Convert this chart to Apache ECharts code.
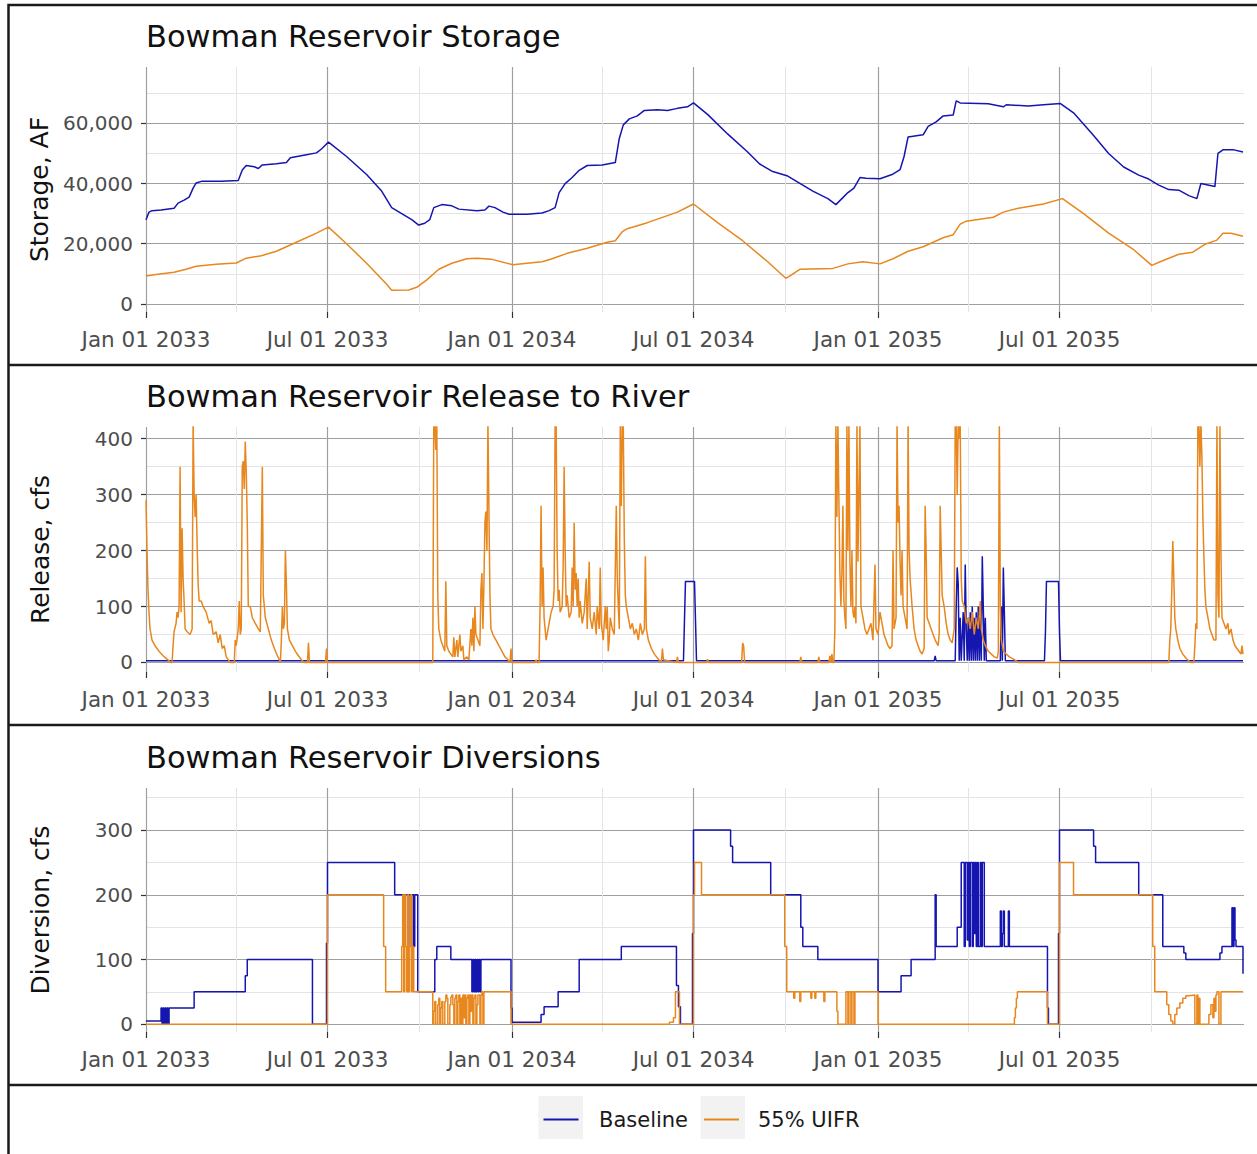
<!DOCTYPE html>
<html>
<head>
<meta charset="utf-8">
<title>Bowman Reservoir</title>
<script src="https://cdn.jsdelivr.net/npm/echarts@6/dist/echarts.min.js"></script>
<style>
html, body { margin: 0; padding: 0; background: #fff; }
#chart { width: 1257px; height: 1154px; }
</style>
</head>
<body>
<div id="chart"></div>
<script>
// x values are days counted from Jan 01 2033
const xTickDays = [0, 181, 365, 546, 730, 911]
const xTickLabels = ["Jan 01 2033", "Jul 01 2033", "Jan 01 2034", "Jul 01 2034", "Jan 01 2035", "Jul 01 2035"]
const xMinorDays = [90.5, 273, 455.5, 638, 820.5, 1003]

const storageTicks = [0, 20000, 40000, 60000]
const storageMinor = [10000, 30000, 50000, 70000]
const releaseTicks = [0, 100, 200, 300, 400]
const releaseMinor = [50, 150, 250, 350]
const diversionTicks = [0, 100, 200, 300]
const diversionMinor = [50, 150, 250, 350]

const seriesNames = ["Baseline", "55% UIFR"]

// storage, AF
const storageBaseline = [
	[0, 28000], [3, 30500], [6, 31000], [15, 31200], [28, 31800], [32, 33500], [38, 34500], [43, 35500], [47, 38500],
	[50, 40200], [56, 40800], [75, 40800], [92, 41000], [96, 44500], [100, 46000], [108, 45600], [112, 45000],
	[116, 46200], [130, 46600], [140, 47000], [144, 48600], [160, 49600], [170, 50200], [175, 51500], [182, 53800],
	[200, 49000], [220, 43000], [235, 37500], [245, 32000], [255, 30000], [265, 28000], [272, 26200], [278, 26800],
	[283, 28000], [287, 32000], [295, 33000], [305, 32600], [312, 31500], [330, 31000], [338, 31200], [342, 32500],
	[348, 32000], [356, 30500], [362, 29800], [380, 29800], [395, 30200], [402, 31000], [408, 32000], [412, 37000],
	[418, 40000], [425, 42000], [432, 44400], [440, 46000], [455, 46200], [468, 47000], [472, 55000], [476, 59500],
	[482, 61500], [490, 62500], [497, 64300], [510, 64500], [520, 64300], [530, 65000], [540, 65500], [546, 66800],
	[560, 63000], [580, 56500], [600, 50500], [612, 46500], [625, 44000], [640, 42500], [650, 40500], [665, 37500],
	[680, 35000], [688, 33000], [694, 35000], [700, 37000], [706, 38500], [712, 42000], [718, 41800], [732, 41600],
	[744, 43000], [752, 44600], [756, 49000], [760, 55500], [775, 56200], [780, 59000], [788, 60500], [795, 62500],
	[805, 62800], [808, 67500], [812, 66800], [840, 66500], [855, 65500], [858, 66200], [880, 65800], [895, 66200],
	[912, 66600], [925, 63500], [945, 56000], [960, 50000], [975, 45500], [990, 42800], [1000, 41500], [1010, 39500],
	[1020, 38000], [1030, 37800], [1040, 36000], [1048, 35000], [1052, 40000], [1066, 39000], [1069, 50000],
	[1074, 51200], [1085, 51200], [1094, 50500],
]
const storageUifr = [
	[0, 9300], [10, 9800], [28, 10500], [40, 11500], [50, 12500], [70, 13200], [90, 13600], [100, 15200], [115, 16000],
	[130, 17500], [150, 20500], [170, 23500], [182, 25500], [200, 20000], [220, 13500], [240, 6500], [245, 4500],
	[262, 4600], [270, 5500], [280, 8000], [292, 11500], [305, 13500], [320, 15000], [330, 15200], [345, 14800],
	[366, 13000], [380, 13500], [395, 14000], [405, 15000], [420, 16800], [440, 18500], [460, 20500], [468, 21000],
	[475, 24000], [480, 25000], [500, 27000], [530, 30500], [546, 33200], [570, 27000], [595, 21000], [620, 14000],
	[638, 8500], [643, 9500], [652, 11500], [685, 11800], [700, 13300], [715, 14000], [732, 13300], [745, 15000],
	[760, 17500], [775, 19000], [795, 22000], [805, 23000], [812, 26500], [818, 27500], [845, 28800], [855, 30500],
	[870, 31800], [895, 33200], [914, 35000], [935, 30000], [960, 23500], [985, 18000], [1003, 12800], [1015, 14500],
	[1030, 16500], [1044, 17200], [1056, 19800], [1068, 21200], [1074, 23500], [1082, 23500], [1094, 22500],
]

// release to river, cfs
const releaseBaseline = [
	[0, 3], [536, 3], [537, 75], [538, 145], [547, 145], [548, 75], [549, 3], [786, 3], [787, 12], [788, 3],
	[807, 3], [808, 100], [809, 170], [810, 140], [811, 3], [812, 80], [813, 3], [815, 90], [816, 3], [817, 175],
	[818, 60], [819, 3], [820, 80], [821, 3], [822, 90], [823, 3], [824, 100], [825, 3], [826, 80], [827, 3],
	[828, 90], [829, 3], [830, 100], [831, 3], [832, 80], [833, 3], [834, 190], [835, 100], [836, 3], [837, 80],
	[838, 3], [852, 3], [853, 100], [854, 3], [855, 170], [856, 90], [857, 3], [896, 3], [897, 55], [898, 145],
	[910, 145], [911, 55], [912, 3], [1094, 3],
]
const releaseUifr = [
	[0, 290], [1, 200], [2, 130], [3, 90], [4, 60], [6, 40], [9, 30], [13, 20], [17, 12], [21, 6], [25, 0], [26, 0],
	[27, 30], [28, 55], [30, 70], [31, 90], [32, 80], [33, 100], [34, 350], [35, 90], [36, 240], [37, 150], [38, 110],
	[39, 60], [41, 55], [44, 50], [46, 60], [47, 430], [48, 300], [49, 260], [50, 300], [51, 210], [52, 140],
	[53, 110], [55, 110], [57, 100], [60, 90], [63, 70], [65, 75], [67, 50], [70, 55], [72, 35], [74, 50], [76, 25],
	[78, 30], [80, 10], [82, 5], [84, 0], [88, 0], [89, 40], [90, 30], [92, 60], [93, 110], [94, 50], [95, 60],
	[96, 350], [97, 360], [98, 310], [99, 395], [100, 340], [101, 250], [102, 100], [104, 100], [106, 80], [109, 70],
	[112, 60], [114, 55], [116, 350], [117, 120], [119, 80], [122, 60], [125, 40], [128, 25], [131, 12], [133, 5],
	[134, 0], [135, 40], [136, 100], [137, 60], [138, 70], [139, 200], [140, 140], [141, 60], [143, 40], [146, 30],
	[149, 20], [152, 12], [155, 5], [158, 0], [161, 0], [162, 35], [163, 0], [179, 0], [180, 25], [181, 0],
	[286, 0], [287, 430], [288, 430], [289, 380], [290, 430], [291, 120], [292, 60], [294, 40], [296, 30], [298, 20],
	[299, 145], [300, 30], [302, 20], [304, 15], [306, 10], [307, 45], [308, 10], [310, 40], [311, 10], [313, 50],
	[314, 20], [316, 30], [317, 5], [320, 10], [322, 5], [324, 60], [325, 30], [326, 80], [327, 20], [328, 100],
	[329, 50], [331, 40], [333, 30], [334, 130], [335, 160], [336, 60], [337, 140], [338, 250], [339, 270],
	[340, 200], [341, 430], [342, 270], [343, 120], [344, 60], [346, 50], [349, 40], [352, 30], [355, 20], [358, 10],
	[361, 5], [363, 0], [364, 25], [365, 0], [388, 0], [389, 5], [390, 0], [392, 0], [393, 100], [394, 280],
	[395, 100], [396, 170], [397, 80], [398, 60], [399, 40], [400, 50], [402, 70], [404, 90], [406, 100], [407, 130],
	[408, 430], [409, 430], [410, 200], [411, 110], [412, 130], [413, 90], [415, 100], [416, 170], [417, 350],
	[418, 200], [419, 100], [420, 120], [422, 80], [424, 90], [425, 170], [426, 100], [427, 250], [428, 130],
	[429, 160], [430, 100], [431, 150], [432, 80], [433, 110], [435, 70], [437, 90], [439, 150], [440, 60],
	[442, 180], [443, 80], [445, 60], [447, 90], [449, 50], [450, 100], [452, 60], [453, 170], [454, 70], [456, 40],
	[458, 100], [459, 60], [460, 100], [461, 20], [462, 40], [463, 80], [465, 60], [467, 50], [469, 280], [470, 150],
	[471, 100], [472, 60], [473, 430], [474, 280], [475, 430], [476, 420], [477, 220], [478, 120], [479, 100],
	[481, 80], [483, 60], [485, 70], [487, 50], [489, 60], [491, 40], [493, 70], [495, 50], [497, 60], [498, 190],
	[499, 60], [501, 40], [504, 25], [507, 15], [510, 8], [514, 0], [515, 25], [516, 5], [529, 0], [530, 10],
	[531, 0], [559, 0], [560, 6], [561, 0], [594, 0], [595, 35], [596, 30], [597, 0], [652, 0], [653, 10], [654, 0],
	[670, 0], [671, 10], [672, 0], [681, 0], [682, 12], [683, 0], [684, 15], [685, 0], [686, 0], [687, 60],
	[688, 430], [689, 260], [690, 430], [691, 290], [692, 160], [693, 100], [694, 160], [695, 280], [696, 110],
	[697, 80], [698, 60], [699, 430], [700, 200], [701, 430], [702, 180], [703, 100], [704, 200], [705, 90],
	[706, 80], [707, 100], [708, 70], [709, 430], [710, 180], [712, 430], [713, 100], [715, 80], [717, 60], [719, 50],
	[721, 60], [723, 70], [725, 40], [727, 175], [728, 60], [730, 50], [732, 90], [734, 70], [736, 50], [738, 40],
	[740, 30], [742, 25], [744, 30], [745, 200], [746, 60], [748, 80], [749, 430], [750, 250], [751, 280], [752, 180],
	[753, 120], [754, 200], [755, 100], [757, 80], [759, 60], [760, 430], [761, 200], [762, 150], [764, 100],
	[766, 60], [768, 40], [770, 30], [772, 20], [774, 15], [776, 25], [777, 280], [778, 200], [779, 80], [781, 70],
	[783, 60], [785, 50], [787, 40], [790, 30], [791, 50], [792, 280], [793, 200], [794, 120], [796, 100], [798, 70],
	[800, 50], [802, 40], [804, 35], [806, 60], [807, 430], [808, 430], [809, 300], [810, 430], [811, 400],
	[812, 430], [813, 150], [814, 110], [816, 100], [818, 70], [820, 80], [822, 60], [824, 90], [826, 50], [828, 80],
	[830, 60], [832, 110], [833, 60], [835, 40], [837, 30], [840, 20], [843, 15], [846, 10], [849, 8], [850, 20],
	[851, 430], [852, 100], [853, 40], [855, 20], [858, 15], [861, 10], [866, 5], [870, 0], [1020, 0], [1021, 40],
	[1022, 60], [1023, 130], [1024, 217], [1025, 150], [1026, 80], [1027, 60], [1029, 40], [1031, 25], [1034, 15],
	[1037, 8], [1040, 3], [1042, 0], [1045, 0], [1046, 30], [1047, 70], [1048, 60], [1049, 430], [1050, 430],
	[1051, 350], [1052, 430], [1053, 370], [1054, 260], [1055, 190], [1056, 130], [1057, 100], [1059, 80],
	[1061, 60], [1063, 50], [1065, 40], [1067, 40], [1068, 430], [1069, 120], [1070, 80], [1071, 430], [1072, 200],
	[1073, 80], [1075, 70], [1077, 60], [1079, 70], [1080, 50], [1082, 60], [1084, 40], [1086, 30], [1088, 25],
	[1090, 20], [1092, 15], [1093, 30], [1094, 15],
]

// diversions, cfs (value holds until the next day listed)
const diversionBaseline = [
	[0, 5], [15, 25], [16, 0], [17, 25], [18, 0], [19, 25], [20, 0], [21, 25], [22, 0], [23, 25], [48, 50],
	[99, 75], [101, 100], [166, 0], [180, 125], [181, 250], [248, 200], [261, 120], [262, 200], [264, 120],
	[265, 200], [267, 120], [268, 200], [271, 50], [288, 100], [290, 120], [304, 100], [325, 50], [326, 100],
	[327, 50], [328, 100], [329, 50], [330, 100], [331, 50], [332, 100], [333, 50], [334, 100], [364, 25],
	[365, 3], [394, 15], [397, 27], [411, 50], [432, 100], [474, 120], [529, 60], [531, 27], [533, 0], [545, 140],
	[546, 300], [583, 275], [585, 250], [623, 200], [653, 150], [655, 120], [670, 100], [730, 50], [753, 75],
	[763, 100], [787, 200], [788, 120], [809, 150], [813, 250], [816, 120], [817, 250], [819, 130], [820, 250],
	[821, 120], [822, 250], [824, 120], [825, 250], [826, 140], [827, 250], [828, 120], [829, 250], [830, 120],
	[832, 250], [833, 120], [834, 250], [836, 120], [852, 175], [853, 120], [854, 140], [855, 175], [856, 120],
	[860, 175], [861, 120], [899, 25], [900, 0], [910, 140], [911, 300], [945, 275], [947, 250], [990, 200],
	[1014, 120], [1035, 110], [1037, 100], [1071, 110], [1073, 120], [1083, 180], [1084, 120], [1085, 180],
	[1086, 130], [1087, 120], [1094, 78],
]
const diversionUifr = [
	[0, 0], [181, 200], [237, 120], [239, 50], [255, 120], [256, 200], [257, 50], [258, 200], [259, 120], [260, 50],
	[261, 200], [262, 50], [263, 120], [264, 200], [265, 50], [266, 120], [267, 50], [286, 0], [287, 20], [288, 35],
	[289, 0], [291, 30], [292, 40], [293, 0], [294, 25], [295, 35], [296, 0], [298, 35], [299, 45], [300, 40],
	[301, 0], [303, 30], [304, 42], [305, 45], [306, 30], [307, 0], [308, 40], [309, 45], [310, 0], [311, 35],
	[312, 45], [313, 0], [314, 40], [315, 0], [316, 45], [317, 10], [318, 45], [319, 0], [320, 40], [321, 45],
	[322, 0], [323, 45], [324, 20], [325, 45], [326, 0], [327, 40], [328, 45], [329, 0], [330, 30], [331, 45],
	[333, 0], [334, 45], [335, 50], [336, 0], [337, 50], [364, 0], [522, 3], [526, 10], [528, 50], [532, 0],
	[546, 200], [547, 250], [554, 200], [637, 120], [639, 50], [646, 40], [647, 50], [652, 35], [653, 50],
	[663, 40], [664, 50], [667, 40], [668, 50], [676, 35], [677, 50], [689, 20], [690, 0], [697, 0], [698, 50],
	[700, 0], [701, 50], [703, 0], [704, 50], [706, 0], [707, 50], [730, 0], [866, 10], [867, 25], [868, 40],
	[869, 50], [899, 0], [911, 250], [925, 200], [1004, 120], [1006, 50], [1018, 30], [1020, 15], [1022, 5],
	[1024, 0], [1026, 15], [1028, 25], [1031, 33], [1034, 40], [1037, 44], [1040, 45], [1046, 0], [1048, 45],
	[1049, 0], [1050, 40], [1051, 0], [1060, 15], [1062, 30], [1064, 10], [1065, 40], [1066, 20], [1067, 45],
	[1068, 50], [1070, 0], [1072, 50], [1094, 50],
]

const BLUE = "#1515b0"
const ORANGE = "#e8871e"
const FONT = "DejaVu Sans"
const GRID_MAJOR = "#9f9f9f"
const GRID_MINOR = "#e3e3ea"

const panels = [
	{ title: "Bowman Reservoir Storage", yName: "Storage, AF", top: 67, height: 245, min: -2700, max: 78750,
		ticks: storageTicks, minor: storageMinor, base: storageBaseline, uifr: storageUifr, step: false },
	{ title: "Bowman Reservoir Release to River", yName: "Release, cfs", top: 427, height: 245, min: -17, max: 421,
		ticks: releaseTicks, minor: releaseMinor, base: releaseBaseline, uifr: releaseUifr, step: false },
	{ title: "Bowman Reservoir Diversions", yName: "Diversion, cfs", top: 788, height: 244, min: -12, max: 365,
		ticks: diversionTicks, minor: diversionMinor, base: diversionBaseline, uifr: diversionUifr, step: "end" },
]

const fmtNumber = v => String(v).replace(/\B(?=(\d{3})+(?!\d))/g, ",")

const grids = panels.map(p => ({ left: 146, width: 1098, top: p.top, height: p.height }))

// minor axes first so their grid lines sit under the major ones
const xAxes = []
const yAxes = []
panels.forEach((p, i) => {
	xAxes.push({
		type: "value", gridIndex: i, min: 0, max: 1095, position: "top",
		axisLine: { show: false, onZero: false },
		axisTick: { show: false, customValues: xMinorDays },
		axisLabel: { show: false },
		splitLine: { show: true, lineStyle: { color: GRID_MINOR, width: 1 } },
	})
	yAxes.push({
		type: "value", gridIndex: i, min: p.min, max: p.max, position: "right",
		axisLine: { show: false, onZero: false },
		axisTick: { show: false, customValues: p.minor },
		axisLabel: { show: false },
		splitLine: { show: true, lineStyle: { color: GRID_MINOR, width: 1 } },
	})
})
panels.forEach((p, i) => {
	xAxes.push({
		type: "value", gridIndex: i, min: 0, max: 1095, position: "bottom",
		axisLine: { show: false, onZero: false },
		axisTick: { show: true, customValues: xTickDays, length: 6, lineStyle: { color: "#333", width: 1.2 } },
		axisLabel: {
			customValues: xTickDays,
			formatter: v => xTickLabels[xTickDays.indexOf(v)],
			margin: 16, color: "#4d4d4d", fontSize: 21.5, fontFamily: FONT,
		},
		splitLine: { show: true, lineStyle: { color: GRID_MAJOR, width: 1.2 } },
	})
	yAxes.push({
		type: "value", gridIndex: i, min: p.min, max: p.max, position: "left",
		name: p.yName, nameLocation: "middle", nameRotate: 90, nameGap: 93,
		nameTextStyle: { fontFamily: FONT, fontSize: 25, lineHeight: 25, color: "#111" },
		axisLine: { show: false, onZero: false },
		axisTick: { show: true, customValues: p.ticks, length: 5, lineStyle: { color: "#333", width: 1.2 } },
		axisLabel: {
			customValues: p.ticks,
			formatter: v => fmtNumber(v),
			margin: 13, color: "#4d4d4d", fontSize: 20, fontFamily: FONT,
		},
		splitLine: { show: true, lineStyle: { color: GRID_MAJOR, width: 1.2 } },
	})
})

const series = []
panels.forEach((p, i) => {
	const n = panels.length
	const mk = (name, data, color) => ({
		name, type: "line", data,
		xAxisIndex: n + i, yAxisIndex: n + i,
		step: p.step, symbol: "none", showSymbol: false,
		clip: true, silent: true, animation: false,
		lineStyle: { color, width: 1.5 },
		itemStyle: { color },
	})
	series.push(mk(seriesNames[0], p.base, BLUE))
	series.push(mk(seriesNames[1], p.uifr, ORANGE))
})

const legendText = pad => ({ fontFamily: FONT, fontSize: 21, lineHeight: 22, color: "#1a1a1a", padding: [0, 0, 0, pad] })

const frame = { stroke: "#1a1a1a", lineWidth: 2.5 }

const option = {
	backgroundColor: "#fff",
	animation: false,
	title: panels.map(p => ({
		text: p.title, left: 146, top: p.top - 46, padding: 0,
		textStyle: { fontFamily: FONT, fontSize: 30.5, lineHeight: 30, fontWeight: "normal", color: "#111" },
	})),
	grid: grids,
	xAxis: xAxes,
	yAxis: yAxes,
	legend: [
		{ data: [seriesNames[0]], left: 543.5, top: 1108.5, padding: 0, icon: "rect", itemWidth: 35, itemHeight: 2,
			selectedMode: false, textStyle: legendText(15.5) },
		{ data: [seriesNames[1]], left: 704, top: 1108.5, padding: 0, icon: "rect", itemWidth: 35, itemHeight: 2,
			selectedMode: false, textStyle: legendText(14) },
	],
	graphic: [
		{ type: "rect", silent: true, shape: { x: 8.5, y: 5, width: 1260, height: 1160 }, style: { fill: "none", ...frame } },
		{ type: "line", silent: true, shape: { x1: 8.5, y1: 365, x2: 1257, y2: 365 }, style: frame },
		{ type: "line", silent: true, shape: { x1: 8.5, y1: 725, x2: 1257, y2: 725 }, style: frame },
		{ type: "line", silent: true, shape: { x1: 8.5, y1: 1085, x2: 1257, y2: 1085 }, style: frame },
		{ type: "rect", silent: true, z: -1, shape: { x: 538.5, y: 1096, width: 44.5, height: 43 }, style: { fill: "#f2f2f2" } },
		{ type: "rect", silent: true, z: -1, shape: { x: 700.5, y: 1096, width: 44.5, height: 43 }, style: { fill: "#f2f2f2" } },
	],
	series,
}

const chart = echarts.init(document.getElementById("chart"), null, { renderer: "svg" })
chart.setOption(option)
</script>
</body>
</html>
